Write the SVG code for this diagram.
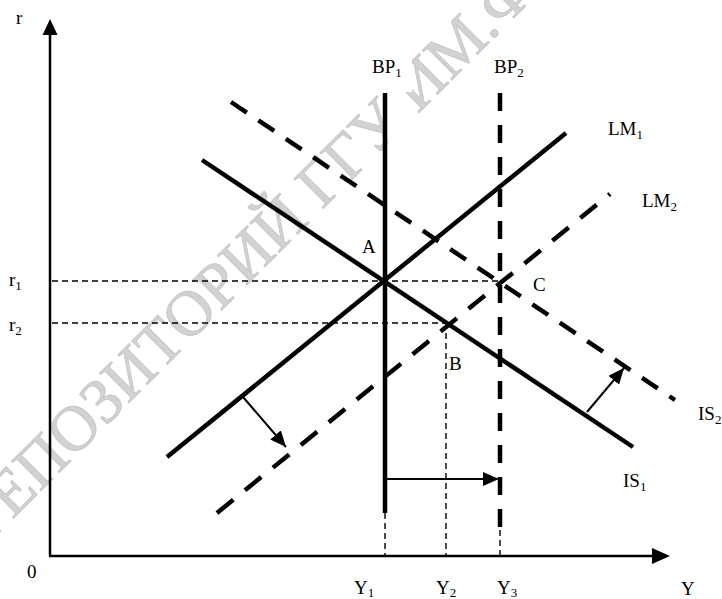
<svg xmlns="http://www.w3.org/2000/svg" width="722" height="599" viewBox="0 0 722 599">
<style>
.t{font-family:"Liberation Serif","Times New Roman",serif;font-size:19px;fill:#000}
.s{font-size:13px}
.thick{stroke:#000;stroke-width:4.5;fill:none}
.dash{stroke-dasharray:19 14}
.thin{stroke:#000;stroke-width:1.4;stroke-dasharray:6 4;fill:none}
.axis{stroke:#000;stroke-width:2.5;fill:none}
.shift{stroke:#000;stroke-width:2;fill:none;marker-end:url(#ah)}
.wm{font-family:"Liberation Serif","Times New Roman",serif;font-size:64px;fill:#d2d2d2;stroke:#c4c4c4;stroke-width:0.8}
</style>
<defs>
<marker id="ah" markerUnits="userSpaceOnUse" markerWidth="16" markerHeight="14" refX="16" refY="7" orient="auto">
<path d="M0,0 L16,7 L0,14 z" fill="#000"/>
</marker>
</defs>
<rect width="722" height="599" fill="#fff"/>
<g id="watermark">
<text class="wm" transform="translate(-13,545) rotate(-45)">РЕПОЗИТОРИЙ ГГУ ИМ.Ф.СКОРИНЫ</text>
<rect x="362" y="42" width="50" height="50" fill="#fff"/>
</g>

<g id="axes">
<line class="axis" x1="50" y1="556" x2="50" y2="33"/>
<polygon points="50,19 42.5,35 57.5,35" fill="#000"/>
<line class="axis" x1="49" y1="556" x2="655" y2="556"/>
<polygon points="670,556 652,548 652,564" fill="#000"/>
<text class="t" x="16" y="24">r</text>
<text class="t" x="27" y="578">0</text>
<text class="t" x="681" y="595">Y</text>
</g>

<g id="guides">
<line class="thin" x1="52" y1="281" x2="500" y2="281"/>
<line class="thin" x1="52" y1="323" x2="446" y2="323"/>
<line class="thin" x1="385" y1="513" x2="385" y2="556"/>
<line class="thin" x1="446" y1="323" x2="446" y2="556"/>
<line class="thin" x1="500" y1="530" x2="500" y2="556"/>
<text class="t" x="9" y="286">r<tspan class="s" dy="4">1</tspan></text>
<text class="t" x="9" y="331">r<tspan class="s" dy="4">2</tspan></text>
<text class="t" x="354" y="594">Y<tspan class="s" dy="3">1</tspan></text>
<text class="t" x="436" y="594">Y<tspan class="s" dy="3">2</tspan></text>
<text class="t" x="497" y="594">Y<tspan class="s" dy="3">3</tspan></text>
</g>

<g id="BP1">
<line class="thick" x1="385" y1="93" x2="385" y2="513"/>
<text class="t" x="372" y="73">BP<tspan class="s" dy="4">1</tspan></text>
</g>
<g id="BP2">
<line class="thick" x1="500" y1="93" x2="500" y2="530" style="stroke-dasharray:18 14"/>
<text class="t" x="494" y="73">BP<tspan class="s" dy="4">2</tspan></text>
</g>
<g id="IS1">
<line class="thick" x1="202" y1="160" x2="633" y2="447"/>
<text class="t" x="623" y="487">IS<tspan class="s" dy="4">1</tspan></text>
</g>
<g id="IS2">
<line class="thick dash" x1="231" y1="102" x2="675" y2="400"/>
<text class="t" x="698" y="420">IS<tspan class="s" dy="4">2</tspan></text>
</g>
<g id="LM1">
<line class="thick" x1="167" y1="457" x2="566" y2="133"/>
<text class="t" x="608" y="135">LM<tspan class="s" dy="4">1</tspan></text>
</g>
<g id="LM2">
<line class="thick" x1="217" y1="513" x2="610" y2="194" style="stroke-dasharray:21 15"/>
<text class="t" x="642" y="207">LM<tspan class="s" dy="4">2</tspan></text>
</g>

<g id="A"><text class="t" x="362" y="253">A</text></g>
<g id="B"><text class="t" x="449" y="370">B</text></g>
<g id="C"><text class="t" x="533" y="291">C</text></g>

<g id="connectors">
<line class="shift" x1="385" y1="479" x2="499" y2="479"/>
<line class="shift" x1="243" y1="397" x2="286" y2="447"/>
<line class="shift" x1="587" y1="412" x2="624" y2="368"/>
</g>
</svg>
